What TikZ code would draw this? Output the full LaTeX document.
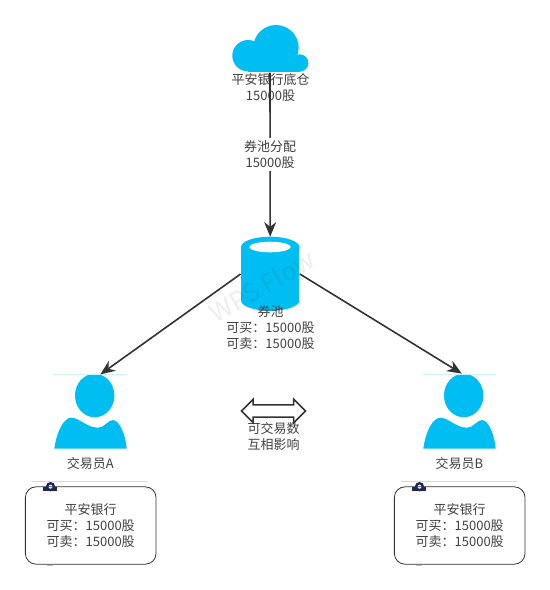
\documentclass[tikz,border=0pt]{standalone}
\usepackage{fontspec}
\setmainfont{Noto Sans CJK SC}
\usepackage{xcolor}
\usetikzlibrary{arrows.meta,shapes.geometric,shapes.arrows}
\definecolor{iconblue}{HTML}{00BEF2}
\definecolor{inktext}{HTML}{404040}
\definecolor{inkline}{HTML}{333333}
\definecolor{tabnavy}{HTML}{1F2463}
\tikzset{
  caption/.style={text=inktext,font=\fontsize{9.75pt}{12pt}\selectfont,align=center,inner sep=1pt},
  flow/.style={-{Stealth[length=11pt,width=9pt]},line width=1.2pt,draw=inkline},
  iconbox/.style={inner sep=0pt,minimum width=#1,minimum height=1pt},
  account/.style={caption,draw=inkline,line width=0.6pt,rounded corners=8pt,minimum width=98pt,minimum height=58pt},
  person/.pic={
    \node[ellipse,fill=iconblue,inner sep=0pt,minimum width=29.6pt,minimum height=32.6pt] (head) at (0,0) {};
    \draw[draw=iconblue!20,line width=0.5pt] (-40.4,-21.5) -- (32,-21.5);
    \fill[iconblue] (-40.4,53.2) .. controls (-38,36) and (-31,22) .. (-23,22.2)
      .. controls (-14,23) and (-8,32.2) .. (3.6,32.2)
      .. controls (10,32) and (13,24.5) .. (18.6,24.5)
      .. controls (25,25) and (31,40) .. (32,53.2) -- cycle;
  },
  wallet/.pic={
    \draw[black!15,line width=0.6pt] (-58.7,-44) -- (57.3,-44);
    \fill[tabnavy] (-40.2,-38.8) circle (4.7);
    \fill[tabnavy] (-47.4,-38.8) rectangle (-33.4,-34.8);
    \fill[white] (-40.2,-38.8) circle (2);
    \fill[black!25] (-44,39.5) rectangle (-37.4,40.5);
  }
}
\begin{document}
\begin{tikzpicture}[x=0.75pt,y=-0.75pt]
\useasboundingbox (0,0) rectangle (550,590);
% cloud
\fill[iconblue] (248,55.7) circle (15.7);
\fill[iconblue] (276,47.7) circle (22.7);
\fill[iconblue] (299.7,63) circle (8.7);
\fill[iconblue] (248,58) rectangle (300,71.7);
\node[iconbox=56pt] (cloud) at (270,71.7) {};
\node[caption] (cloudtext) at (270.5,88) {平安银行底仓\\15000股};
% pool
\fill[iconblue] (270.2,300.5) ellipse (29.2 and 10.3);
\fill[iconblue] (241,247) rectangle (299.4,300.5);
\fill[iconblue] (270.2,247) ellipse (29.2 and 10.3);
\fill[white] (270,247) ellipse (20.7 and 5.3);
\node[iconbox=44pt,minimum height=55.5pt] (pool) at (270.2,274) {};
% watermark
\node[rotate=30,text=black,opacity=0.07,font=\fontsize{19pt}{19pt}\selectfont] (markbig) at (262,286) {WPS Flow};
\node[caption] (pooltext) at (270.5,328) {券池\\可买：15000股\\可卖：15000股};
% traders
\pic (A) at (94.7,395.5) {person};
\pic (B) at (463.7,395.5) {person};
\node[caption] (nameA) at (90.3,464) {交易员A};
\node[caption] (nameB) at (459.3,464) {交易员B};
\pic at (90.7,525.5) {wallet};
\pic at (459.7,525.5) {wallet};
\node[account] (accountA) at (90.7,525.5) {平安银行\\可买：15000股\\可卖：15000股};
\node[account] (accountB) at (459.7,525.5) {平安银行\\可买：15000股\\可卖：15000股};
% arrows
\draw[flow] (cloud.south) -- (pool.north) node[midway,caption,fill=white,inner ysep=2pt] (pooldist) {券池分配\\15000股};
\draw[flow] (pool.west) -- (Ahead.75);
\draw[flow] (pool.east) -- (Bhead.95);
\node[double arrow,draw=inkline,fill=white,line width=1.2pt,inner sep=4pt,minimum height=48pt,double arrow head extend=4.2pt,double arrow tip angle=90,double arrow head indent=0pt] (mutual) at (273.4,411) {};
\node[caption] (mutualtext) at (273.5,436) {可交易数\\互相影响};
\end{tikzpicture}
\end{document}
